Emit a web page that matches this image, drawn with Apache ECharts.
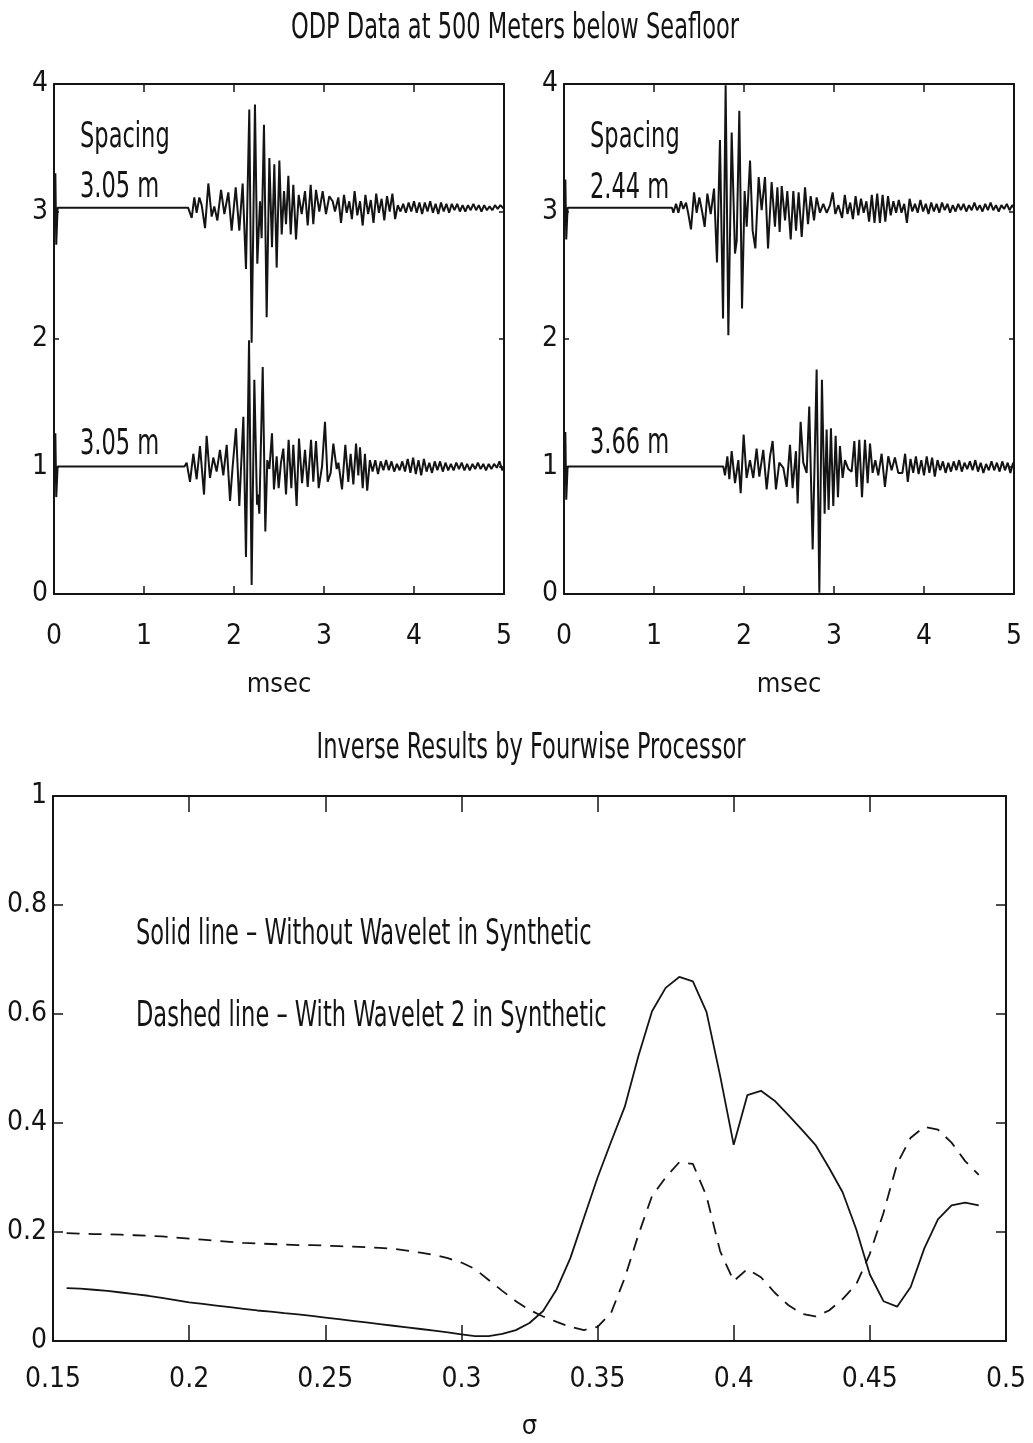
<!DOCTYPE html>
<html>
<head>
<meta charset="utf-8">
<script src="https://cdn.jsdelivr.net/npm/echarts@6/dist/echarts.min.js"></script>
<style>
  html, body { margin: 0; padding: 0; background: #fff; }
  #chart { width: 1033px; height: 1443px; }
</style>
</head>
<body>
<div id="chart"></div>
<script>
// ---------------- DATA ----------------
// Waveforms: [time (msec), amplitude relative to trace baseline]
const traceLeftUpper = [
[0,0],[0.015,0.27],[0.025,-0.29],[0.04,0],[1.49,0],
[1.530,-0.08],[1.559,0.08],[1.585,-0.04],[1.615,0.08],[1.641,0.02],[1.678,-0.16],[1.715,0.19],[1.752,-0.07],[1.781,0.01],[1.815,-0.10],[1.856,0.14],[1.893,-0.05],[1.937,0.12],[1.974,-0.18],[2.019,0.16],[2.059,-0.18],[2.096,0.19],[2.133,-0.48],[2.170,0.77],[2.196,-1.06],[2.233,0.81],[2.259,-0.44],[2.289,0.05],[2.307,-0.24],[2.333,0.65],[2.363,-0.86],[2.393,0.39],[2.422,-0.31],[2.448,0.34],[2.474,-0.47],[2.504,0.37],[2.530,-0.21],[2.556,0.13],[2.578,-0.13],[2.604,0.25],[2.630,-0.21],[2.659,0.18],[2.689,-0.25],[2.719,0.10],[2.752,-0.05],[2.789,0.13],[2.819,-0.14],[2.852,0.18],[2.881,-0.13],[2.911,0.14],[2.948,-0.03],[2.985,0.13],[3.022,-0.05],[3.059,0.09],[3.096,0.05],[3.122,-0.03],[3.159,0.08],[3.189,-0.12],[3.222,0.10],[3.252,-0.04],[3.281,0.05],
[3.31,-0.09],[3.34,0.13],[3.37,-0.06],[3.40,0.05],[3.43,-0.14],[3.46,0.10],[3.49,-0.05],[3.52,0.06],[3.55,-0.12],[3.58,0.11],[3.61,-0.04],[3.64,0.07],[3.67,-0.10],[3.70,0.09],[3.73,-0.03],[3.76,0.11],[3.79,-0.09],[3.82,0.02],[3.85,-0.03],[3.88,0.03],[3.91,-0.04],[3.94,0.04],[3.97,-0.03],[4.00,0.05],[4.03,-0.04],[4.06,0.04],[4.09,-0.05],[4.12,0.04],[4.15,-0.03],[4.18,0.05],[4.21,-0.04],[4.24,0.03],[4.27,-0.05],[4.30,0.04],[4.33,-0.03],[4.36,0.03],[4.39,-0.04],[4.42,0.03],[4.45,-0.02],[4.48,0.03],[4.51,-0.03],[4.54,0.02],[4.57,-0.03],[4.60,0.02],[4.63,-0.02],[4.66,0.03],[4.69,-0.02],[4.72,0.02],[4.75,-0.03],[4.78,0.02],[4.81,-0.02],[4.84,0.01],[4.87,-0.02],[4.90,0.02],[4.93,-0.01],[4.96,0.02],[5.0,-0.01]
];
const traceLeftLower = [
[0,0],[0.015,0.26],[0.025,-0.24],[0.04,0],[1.45,0],
[1.474,0.03],[1.511,-0.12],[1.548,0.10],[1.585,-0.10],[1.622,0.16],[1.667,-0.22],[1.696,0.24],[1.733,-0.09],[1.770,0.07],[1.807,-0.04],[1.844,0.13],[1.881,-0.07],[1.919,0.17],[1.956,-0.27],[1.985,0.00],[2.022,0.30],[2.059,-0.31],[2.104,0.39],[2.133,-0.71],[2.167,0.99],[2.196,-0.93],[2.226,0.68],[2.256,-0.30],[2.267,-0.22],[2.281,-0.37],[2.319,0.78],[2.348,-0.51],[2.370,0.05],[2.393,-0.02],[2.422,0.26],[2.444,-0.18],[2.474,0.08],[2.496,-0.17],[2.522,0.03],[2.548,0.14],[2.578,-0.22],[2.607,0.21],[2.637,-0.17],[2.659,0.17],[2.696,-0.31],[2.722,0.22],[2.756,-0.13],[2.789,0.13],[2.819,-0.16],[2.856,0.21],[2.881,-0.12],[2.911,0.20],[2.941,-0.17],[2.978,0.00],[3.011,0.35],[3.041,-0.12],[3.074,-0.05],[3.104,0.18],[3.141,-0.02],[3.160,0.03],[3.200,-0.18],[3.237,0.17],[3.270,-0.12],[3.296,0.10],[3.326,-0.14],[3.356,0.18],[3.381,-0.07],
[3.40,0.15],[3.43,-0.17],[3.455,0.10],[3.48,-0.19],[3.51,0.05],[3.54,-0.04],[3.57,0.05],[3.60,-0.06],[3.63,0.04],[3.66,-0.03],[3.69,0.05],[3.72,-0.03],[3.75,0.04],[3.78,-0.04],[3.81,0.02],[3.84,-0.03],[3.87,0.04],[3.90,-0.04],[3.93,0.06],[3.96,-0.05],[3.99,0.07],[4.02,-0.06],[4.05,0.05],[4.08,-0.07],[4.11,0.06],[4.14,-0.04],[4.17,0.03],[4.20,-0.05],[4.23,0.04],[4.26,-0.03],[4.29,0.04],[4.32,-0.04],[4.35,0.03],[4.38,-0.03],[4.41,0.02],[4.44,-0.03],[4.47,0.03],[4.50,-0.02],[4.53,0.03],[4.56,-0.03],[4.59,0.02],[4.62,-0.03],[4.65,0.02],[4.68,-0.02],[4.71,0.03],[4.74,-0.02],[4.77,0.02],[4.80,-0.03],[4.83,0.02],[4.86,-0.02],[4.89,0.02],[4.92,-0.01],[4.95,0.04],[4.98,-0.03],[5.0,0]
];
const traceRightUpper = [
[0,0],[0.015,0.22],[0.025,-0.25],[0.04,0],[1.20,0],
[1.215,-0.04],[1.245,0.03],[1.271,-0.04],[1.300,0.05],[1.326,-0.01],[1.356,0.04],[1.382,-0.05],[1.411,-0.17],[1.445,0.12],[1.474,-0.04],[1.504,0.08],[1.537,-0.04],[1.563,-0.15],[1.593,0.11],[1.630,-0.05],[1.667,0.15],[1.700,-0.43],[1.733,0.53],[1.767,-0.87],[1.796,0.96],[1.826,-1.00],[1.863,0.59],[1.900,-0.36],[1.919,-0.26],[1.948,0.76],[1.978,-0.79],[2.007,0.13],[2.030,-0.15],[2.067,0.37],[2.096,-0.18],[2.126,-0.32],[2.163,0.24],[2.196,-0.02],[2.233,0.24],[2.267,-0.32],[2.307,0.20],[2.344,-0.15],[2.371,0.16],[2.396,-0.19],[2.419,0.17],[2.456,-0.10],[2.481,0.13],[2.519,-0.25],[2.548,0.13],[2.578,-0.18],[2.607,0.12],[2.641,-0.23],[2.678,0.16],[2.711,-0.13],[2.741,0.09],[2.778,-0.10],[2.807,0.08],[2.844,-0.04],[2.881,0.03],[2.919,-0.04],[2.956,0.02],[2.985,0.12],[3.015,-0.05],[3.048,0.02],
[3.09,-0.08],[3.12,0.10],[3.15,-0.05],[3.18,0.04],[3.21,-0.09],[3.24,0.09],[3.27,-0.06],[3.30,0.07],[3.33,-0.04],[3.36,0.05],[3.39,-0.11],[3.42,0.10],[3.45,-0.12],[3.48,0.11],[3.51,-0.12],[3.54,0.10],[3.57,-0.11],[3.60,0.09],[3.63,-0.06],[3.66,0.05],[3.69,-0.04],[3.72,0.06],[3.75,-0.04],[3.78,0.03],[3.81,-0.12],[3.84,0.07],[3.87,-0.03],[3.90,0.03],[3.93,-0.04],[3.96,0.06],[3.99,-0.03],[4.02,0.03],[4.05,-0.05],[4.08,0.04],[4.11,-0.03],[4.14,0.03],[4.17,-0.04],[4.20,0.04],[4.23,-0.02],[4.26,0.03],[4.29,-0.04],[4.32,0.02],[4.35,-0.03],[4.38,0.03],[4.41,-0.02],[4.44,0.03],[4.47,-0.03],[4.50,0.02],[4.53,-0.02],[4.56,0.04],[4.59,-0.02],[4.62,0.02],[4.65,-0.03],[4.68,0.03],[4.71,-0.02],[4.74,0.04],[4.77,-0.02],[4.80,0.02],[4.83,-0.03],[4.86,0.02],[4.89,-0.01],[4.92,0.03],[4.95,-0.02],[4.98,0.02],[5.0,0]
];
const traceRightLower = [
[0,0],[0.015,0.27],[0.025,-0.26],[0.04,0],[1.77,0],
[1.789,-0.07],[1.815,0.08],[1.837,-0.10],[1.863,0.12],[1.900,-0.13],[1.937,0.05],[1.963,-0.21],[1.996,0.25],[2.029,-0.09],[2.066,0.05],[2.103,-0.09],[2.140,0.14],[2.170,-0.08],[2.214,0.13],[2.252,-0.18],[2.289,0.08],[2.318,0.20],[2.355,-0.18],[2.392,0.03],[2.437,-0.01],[2.474,-0.16],[2.511,0.17],[2.540,-0.17],[2.577,0.12],[2.596,-0.29],[2.629,0.35],[2.659,0.03],[2.696,-0.05],[2.725,0.47],[2.763,-0.65],[2.807,0.76],[2.837,-0.99],[2.866,0.68],[2.896,-0.37],[2.918,0.29],[2.940,-0.34],[2.966,0.30],[2.992,-0.31],[3.018,0.24],[3.044,-0.24],[3.066,0.16],[3.096,-0.09],[3.122,0.05],[3.159,-0.02],[3.196,-0.04],[3.226,0.20],[3.252,-0.16],[3.281,0.21],[3.311,-0.24],[3.344,0.21],[3.374,-0.13],[3.400,0.18],[3.429,-0.05],[3.459,0.05],[3.492,-0.07],[3.529,0.10],[3.566,-0.16],[3.603,0.08],[3.640,-0.03],[3.677,0.07],[3.714,-0.05],
[3.76,-0.05],[3.79,0.10],[3.82,-0.12],[3.85,0.06],[3.88,-0.05],[3.91,0.08],[3.94,-0.06],[3.97,0.05],[4.00,-0.07],[4.03,0.08],[4.06,-0.05],[4.09,0.07],[4.12,-0.08],[4.15,0.05],[4.18,-0.03],[4.21,0.04],[4.24,-0.05],[4.27,0.03],[4.30,-0.04],[4.33,0.04],[4.36,-0.03],[4.39,0.05],[4.42,-0.04],[4.45,0.03],[4.48,-0.02],[4.51,0.04],[4.54,-0.03],[4.57,0.05],[4.60,-0.04],[4.63,0.03],[4.66,-0.05],[4.69,0.02],[4.72,-0.03],[4.75,0.04],[4.78,-0.03],[4.81,0.03],[4.84,-0.04],[4.87,0.04],[4.90,-0.03],[4.93,0.03],[4.96,-0.05],[4.99,0.03],[5.0,0]
];
// Trace baselines (y offsets)
const upperOffset = 3.03;
const lowerOffset = 1.0;
// Spacing annotations
const spacingLabels = ['Spacing', '3.05 m', '3.05 m', 'Spacing', '2.44 m', '3.66 m'];

// Inverse results
const sigma = [0.155,0.16,0.165,0.17,0.175,0.18,0.185,0.19,0.195,0.2,0.205,0.21,0.215,0.22,0.225,0.23,0.235,0.24,0.245,0.25,0.255,0.26,0.265,0.27,0.275,0.28,0.285,0.29,0.295,0.3,0.305,0.31,0.315,0.32,0.325,0.33,0.335,0.34,0.345,0.35,0.355,0.36,0.365,0.37,0.375,0.38,0.385,0.39,0.395,0.4,0.405,0.41,0.415,0.42,0.425,0.43,0.435,0.44,0.445,0.45,0.455,0.46,0.465,0.47,0.475,0.48,0.485,0.49];
const solidWithoutWavelet = [0.097,0.096,0.094,0.092,0.089,0.086,0.083,0.079,0.075,0.071,0.068,0.065,0.062,0.059,0.056,0.054,0.051,0.049,0.046,0.043,0.040,0.037,0.034,0.031,0.028,0.025,0.022,0.019,0.016,0.012,0.009,0.009,0.013,0.020,0.033,0.055,0.095,0.152,0.226,0.300,0.366,0.430,0.523,0.605,0.648,0.668,0.660,0.604,0.487,0.360,0.451,0.459,0.441,0.415,0.388,0.360,0.318,0.273,0.205,0.122,0.073,0.063,0.099,0.170,0.223,0.249,0.254,0.249];
const dashedWithWavelet2 = [0.198,0.197,0.196,0.196,0.195,0.194,0.193,0.192,0.190,0.188,0.186,0.184,0.182,0.180,0.179,0.178,0.177,0.176,0.176,0.175,0.174,0.173,0.172,0.171,0.169,0.166,0.162,0.158,0.152,0.144,0.132,0.112,0.092,0.073,0.057,0.045,0.035,0.026,0.020,0.026,0.052,0.116,0.195,0.266,0.300,0.328,0.325,0.266,0.165,0.110,0.132,0.117,0.089,0.066,0.050,0.045,0.056,0.077,0.104,0.160,0.235,0.325,0.373,0.393,0.388,0.364,0.330,0.305];

const titleTop = 'ODP Data at 500 Meters below Seafloor';
const titleBottom = 'Inverse Results by Fourwise Processor';
const legendSolid = 'Solid line \u2013 Without Wavelet in Synthetic';
const legendDashed = 'Dashed line \u2013 With Wavelet 2 in Synthetic';

// ---------------- STYLE ----------------
const FONT = "'DejaVu Sans Condensed','Liberation Sans Narrow','Liberation Sans',sans-serif";
const INK = '#141414';
const TICK_FONT = 28;
const axisLine = { show: true, onZero: false, lineStyle: { color: INK, width: 2 } };

// narrow, tall lettering of the original: horizontal squeeze measured against the title width
const measureCtx = document.createElement('canvas').getContext('2d');
measureCtx.font = '30px ' + FONT;
const TEXT_SX = 448 / measureCtx.measureText(titleTop).width;
const TEXT_SY = 1.2;

function xAx(grid, pos, min, max, interval, tickLen, showLabel, margin, name, nameGap) {
  return {
    type: 'value', gridIndex: grid, position: pos, min: min, max: max, interval: interval,
    axisLine: axisLine,
    axisTick: { show: true, inside: true, length: tickLen, lineStyle: { color: INK, width: 1.5 } },
    axisLabel: { show: showLabel, margin: margin, fontFamily: FONT, fontSize: TICK_FONT, color: INK,
                 showMinLabel: true, showMaxLabel: true },
    splitLine: { show: false },
    name: name || '', nameLocation: 'middle', nameGap: nameGap || 0,
    nameTextStyle: { fontFamily: FONT, fontSize: 27, color: INK }
  };
}
function yAx(grid, pos, min, max, interval, tickLen, showLabel, margin) {
  return {
    type: 'value', gridIndex: grid, position: pos, min: min, max: max, interval: interval,
    axisLine: axisLine,
    axisTick: { show: true, inside: true, length: tickLen, lineStyle: { color: INK, width: 1.5 } },
    axisLabel: { show: showLabel, margin: margin, fontFamily: FONT, fontSize: TICK_FONT, color: INK,
                 showMinLabel: true, showMaxLabel: true },
    splitLine: { show: false }
  };
}
function wave(trace, offset, xi, yi) {
  return {
    type: 'line', xAxisIndex: xi, yAxisIndex: yi, showSymbol: false, symbol: 'none',
    data: trace.map(p => [p[0], offset + p[1]]),
    lineStyle: { color: INK, width: 2 }, clip: true, silent: true
  };
}
function txt(x, y, s, align) {
  return { type: 'text', x: x, y: y, scaleX: TEXT_SX, scaleY: TEXT_SY, silent: true,
    style: { text: s, fontFamily: FONT, fontSize: 30, fill: INK,
             textAlign: align || 'left', textVerticalAlign: 'middle' } };
}

const option = {
  animation: false,
  backgroundColor: '#ffffff',
  grid: [
    { left: 54, top: 84, width: 450, height: 510 },
    { left: 564, top: 84, width: 450, height: 510 },
    { left: 53, top: 796, width: 953, height: 545 }
  ],
  xAxis: [
    xAx(0, 'bottom', 0, 5, 1, 8, true, 29, 'msec', 77),
    xAx(0, 'top', 0, 5, 1, 8, false, 8),
    xAx(1, 'bottom', 0, 5, 1, 8, true, 29, 'msec', 77),
    xAx(1, 'top', 0, 5, 1, 8, false, 8),
    xAx(2, 'bottom', 0.15, 0.5, 0.05, 16, true, 25, '\u03c3', 72),
    xAx(2, 'top', 0.15, 0.5, 0.05, 16, false, 8)
  ],
  yAxis: [
    yAx(0, 'left', 0, 4, 1, 5, true, 6),
    yAx(0, 'right', 0, 4, 1, 5, false, 6),
    yAx(1, 'left', 0, 4, 1, 5, true, 6),
    yAx(1, 'right', 0, 4, 1, 5, false, 6),
    yAx(2, 'left', 0, 1, 0.2, 10, true, 6),
    yAx(2, 'right', 0, 1, 0.2, 10, false, 6)
  ],
  series: [
    wave(traceLeftUpper, upperOffset, 0, 0),
    wave(traceLeftLower, lowerOffset, 0, 0),
    wave(traceRightUpper, upperOffset, 2, 2),
    wave(traceRightLower, lowerOffset, 2, 2),
    { type: 'line', xAxisIndex: 4, yAxisIndex: 4, showSymbol: false, symbol: 'none', silent: true,
      data: sigma.map((s, i) => [s, solidWithoutWavelet[i]]),
      lineStyle: { color: INK, width: 1.8 } },
    { type: 'line', xAxisIndex: 4, yAxisIndex: 4, showSymbol: false, symbol: 'none', silent: true,
      data: sigma.map((s, i) => [s, dashedWithWavelet2[i]]),
      lineStyle: { color: INK, width: 1.8, type: [13, 9] } }
  ],
  graphic: [
    txt(515, 29, titleTop, 'center'),
    txt(531, 749, titleBottom, 'center'),
    txt(80, 138, spacingLabels[0]),
    txt(80, 188, spacingLabels[1]),
    txt(80, 445, spacingLabels[2]),
    txt(590, 138, spacingLabels[3]),
    txt(590, 189, spacingLabels[4]),
    txt(590, 444, spacingLabels[5]),
    txt(136, 935, legendSolid),
    txt(136, 1017, legendDashed)
  ]
};

const chart = echarts.init(document.getElementById('chart'), null, { renderer: 'canvas' });
chart.setOption(option);
</script>
</body>
</html>
